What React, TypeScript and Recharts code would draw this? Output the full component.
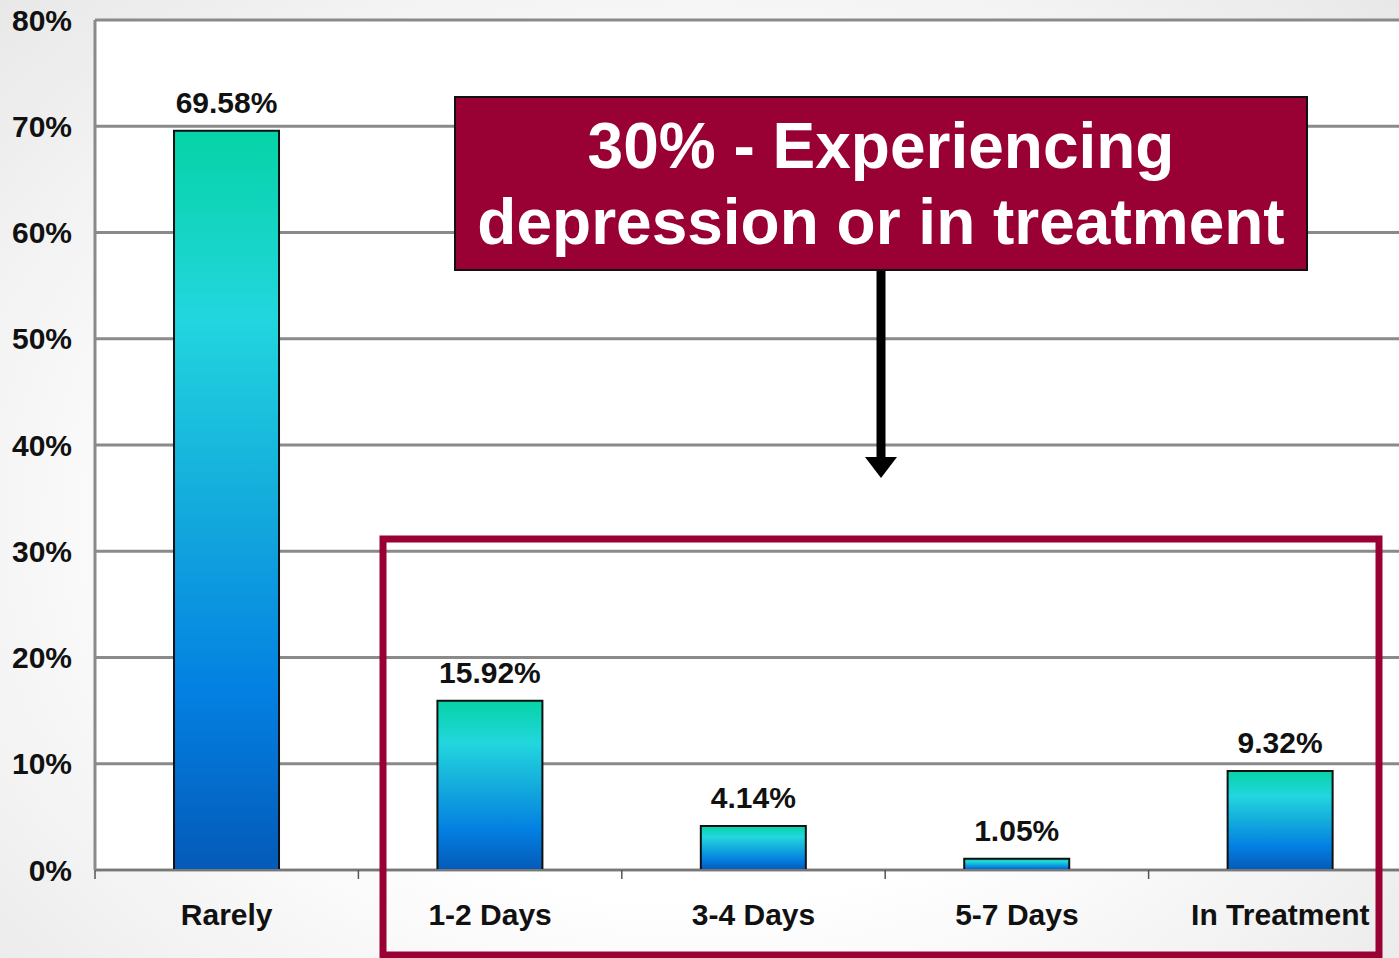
import React from "react"
import { ComposedChart, Bar, XAxis, YAxis, CartesianGrid, LabelList } from "recharts"

// survey buckets and their shares (%)
const categories = ["Rarely", "1-2 Days", "3-4 Days", "5-7 Days", "In Treatment"]
const shares = [69.58, 15.92, 4.14, 1.05, 9.32]
const yTicks = [0, 10, 20, 30, 40, 50, 60, 70, 80]

const calloutLines = ["30% - Experiencing", "depression or in treatment"]

const data = categories.map((name, i) => ({ name, value: shares[i] }))

const CHART_W = 1420
const CHART_H = 958
const MARGIN = { top: 20, right: 8, left: 0, bottom: 58 }
const X_AXIS_H = 30
const Y_AXIS_W = 95
const FONT = "'Liberation Sans', Arial, Helvetica, sans-serif"
const MAROON = "#990033"

// category label centred in its band, plus a short tick on the band's left edge
function BandTick(props: any) {
  const { x, y, payload } = props
  const fallback = (CHART_W - MARGIN.left - MARGIN.right - Y_AXIS_W) / categories.length / 2
  const half = payload && typeof payload.offset === "number" && payload.offset > 0 ? payload.offset : fallback
  return (
    <g>
      <line x1={x - half} y1={y} x2={x - half} y2={y + 9} stroke="#555" strokeWidth={1.5} />
      <text
        x={x}
        y={y + 55}
        textAnchor="middle"
        fontFamily={FONT}
        fontWeight="bold"
        fontSize={30}
        fill="#111"
      >
        {payload.value}
      </text>
    </g>
  )
}

export default function App() {
  return (
    <div
      style={{
        position: "absolute",
        left: 0,
        top: 0,
        width: 1399,
        height: 958,
        overflow: "hidden",
        background: "radial-gradient(ellipse at 50% 55%, #ffffff 50%, #e8e8e8 100%)",
        fontFamily: FONT,
      }}
    >
      <ComposedChart width={CHART_W} height={CHART_H} data={data} margin={MARGIN} barCategoryGap="30%">
        <defs>
          <linearGradient id="barGrad" x1="0" y1="0" x2="0" y2="1">
            <stop offset="0%" stopColor="#06d3a6" />
            <stop offset="25%" stopColor="#22d6de" />
            <stop offset="50%" stopColor="#14acdc" />
            <stop offset="76%" stopColor="#0380e2" />
            <stop offset="100%" stopColor="#045ab8" />
          </linearGradient>
        </defs>
        <CartesianGrid vertical={false} fill="#ffffff" stroke="#8a8a8a" strokeWidth={3} />
        <XAxis
          dataKey="name"
          height={X_AXIS_H}
          axisLine={{ stroke: "#777", strokeWidth: 2 }}
          tickLine={false}
          tickSize={0}
          tickMargin={0}
          tick={<BandTick />}
          interval={0}
        />
        <YAxis
          width={Y_AXIS_W}
          domain={[0, 80]}
          ticks={yTicks}
          interval={0}
          axisLine={{ stroke: "#8a8a8a", strokeWidth: 3 }}
          tickLine={false}
          tickSize={0}
          tickMargin={23}
          tickFormatter={(v: number) => `${v}%`}
          tick={{ fontFamily: FONT, fontWeight: "bold", fontSize: 30, fill: "#111" }}
        />
        <Bar dataKey="value" fill="url(#barGrad)" stroke="#111" strokeWidth={2} isAnimationActive={false}>
          <LabelList
            dataKey="value"
            position="top"
            offset={18}
            formatter={(v: any) => `${Number(v).toFixed(2)}%`}
            style={{ fontFamily: FONT, fontWeight: "bold", fontSize: 30, fill: "#111" }}
          />
        </Bar>
      </ComposedChart>

      {/* frame around the "experiencing depression" group and the arrow from the callout */}
      <svg
        width={1399}
        height={958}
        style={{ position: "absolute", left: 0, top: 0, pointerEvents: "none" }}
      >
        <rect x={383} y={539} width={996} height={416} fill="none" stroke={MAROON} strokeWidth={7} />
        <line x1={881} y1={271} x2={881} y2={462} stroke="#000" strokeWidth={9} />
        <polygon points="865,457 897,457 881,478" fill="#000" />
      </svg>

      <div
        style={{
          position: "absolute",
          left: 454,
          top: 96,
          width: 854,
          height: 175,
          boxSizing: "border-box",
          background: MAROON,
          border: "2px solid #111",
          color: "#fff",
          fontWeight: "bold",
          fontSize: 64,
          lineHeight: "76px",
          textAlign: "center",
          paddingTop: 10,
          whiteSpace: "nowrap",
        }}
      >
        {calloutLines.map((l) => (
          <div key={l}>{l}</div>
        ))}
      </div>
    </div>
  )
}
